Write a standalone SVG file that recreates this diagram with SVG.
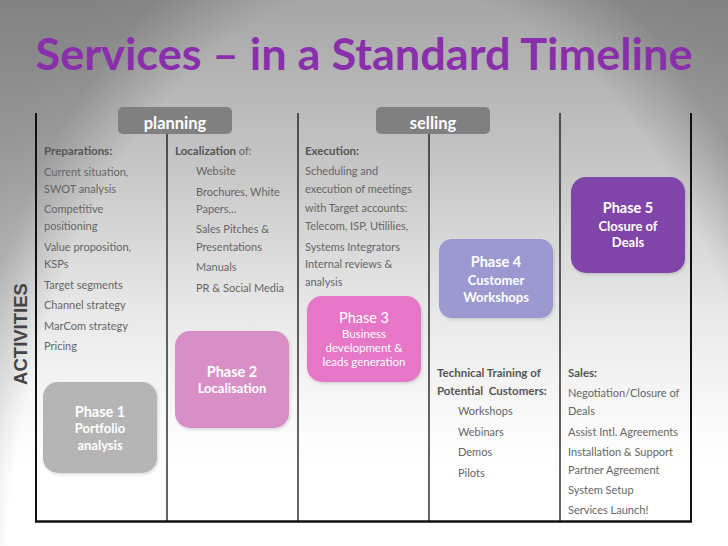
<svg xmlns="http://www.w3.org/2000/svg" width="728" height="546" viewBox="0 0 728 546">
<defs>
<linearGradient id="bg" x1="0" y1="0" x2="0" y2="546" gradientUnits="userSpaceOnUse">
<stop offset="0" stop-color="#a6a6a6"/>
<stop offset="0.27" stop-color="#c2c2c2"/>
<stop offset="0.55" stop-color="#e6e6e6"/>
<stop offset="0.77" stop-color="#fafafa"/>
<stop offset="0.86" stop-color="#ffffff"/>
<stop offset="1" stop-color="#ffffff"/>
</linearGradient>
<radialGradient id="edge" gradientUnits="userSpaceOnUse" cx="390" cy="600" r="480" gradientTransform="translate(390 600) scale(1 1.6) translate(-390 -600)">
<stop offset="0" stop-color="#000" stop-opacity="0"/>
<stop offset="0.8" stop-color="#000" stop-opacity="0"/>
<stop offset="0.92" stop-color="#000" stop-opacity="0.2"/>
<stop offset="1" stop-color="#000" stop-opacity="0.22"/>
</radialGradient>
<filter id="sh" x="-10%" y="-10%" width="125%" height="125%">
<feDropShadow dx="1" dy="1.5" stdDeviation="1.5" flood-color="#000" flood-opacity="0.15"/>
</filter>
</defs>
<style>
text{font-family:Lato,"Open Sans","Liberation Sans",sans-serif}
.b{font-size:11px;fill:#666}
.h{font-size:11.5px;fill:#555;font-weight:bold}
.lbl{font-size:16.5px;fill:#fff;font-weight:bold;text-anchor:middle}
.pt{fill:#fff;font-weight:bold;text-anchor:middle}
.p3{fill:#fff;text-anchor:middle;font-size:11.5px}
.ln{stroke:#111;stroke-width:1.3;fill:none}
.lo{stroke:#111;stroke-width:2;fill:none}
</style>
<rect width="728" height="546" fill="url(#bg)"/>
<rect width="728" height="546" fill="url(#edge)"/>
<text x="364" y="70" text-anchor="middle" font-size="43" font-weight="bold" fill="#8a2fac" textLength="657" lengthAdjust="spacingAndGlyphs">Services – in a Standard Timeline</text>
<text transform="translate(27 334) rotate(-90)" text-anchor="middle" font-size="18.5" font-weight="bold" fill="#444" style="font-family:'Liberation Sans',Arial,sans-serif">ACTIVITIES</text>

<g id="connectors">
<line class="lo" x1="36" y1="113" x2="36" y2="522"/>
<line class="ln" x1="167" y1="134" x2="167" y2="522"/>
<line class="ln" x1="298" y1="113" x2="298" y2="522"/>
<line class="ln" x1="429" y1="134" x2="429" y2="522"/>
<line class="ln" x1="560" y1="113" x2="560" y2="522"/>
<line class="lo" x1="691" y1="113" x2="691" y2="522"/>
<line x1="35" y1="521.5" x2="692" y2="521.5" stroke="#111" stroke-width="2.5"/>
</g>

<g id="planning">
<rect x="118" y="107" width="114" height="27" rx="5" fill="#808080"/>
<text class="lbl" x="175" y="129">planning</text>
</g>
<g id="selling">
<rect x="376" y="107" width="114" height="27" rx="5" fill="#808080"/>
<text class="lbl" x="433" y="129">selling</text>
</g>

<g id="col1">
<text class="h" x="44" y="155">Preparations:</text>
<text class="b" x="44" y="176">Current situation,</text>
<text class="b" x="44" y="193">SWOT analysis</text>
<text class="b" x="44" y="213">Competitive</text>
<text class="b" x="44" y="230">positioning</text>
<text class="b" x="44" y="251">Value proposition,</text>
<text class="b" x="44" y="268">KSPs</text>
<text class="b" x="44" y="289">Target segments</text>
<text class="b" x="44" y="309">Channel strategy</text>
<text class="b" x="44" y="330">MarCom strategy</text>
<text class="b" x="44" y="350">Pricing</text>
</g>
<g id="col2">
<text class="b" x="175" y="155"><tspan font-weight="bold" fill="#555" font-size="11.5">Localization</tspan> of:</text>
<text class="b" x="196" y="175">Website</text>
<text class="b" x="196" y="196">Brochures, White</text>
<text class="b" x="196" y="213">Papers,..</text>
<text class="b" x="196" y="233">Sales Pitches &amp;</text>
<text class="b" x="196" y="251">Presentations</text>
<text class="b" x="196" y="271">Manuals</text>
<text class="b" x="196" y="292">PR &amp; Social Media</text>
</g>
<g id="col3">
<text class="h" x="305" y="155">Execution:</text>
<text class="b" x="305" y="175">Scheduling and</text>
<text class="b" x="305" y="193">execution of meetings</text>
<text class="b" x="305" y="212">with Target accounts:</text>
<text class="b" x="305" y="230">Telecom, ISP, Utililies,</text>
<text class="b" x="305" y="251">Systems Integrators</text>
<text class="b" x="305" y="268">Internal reviews &amp;</text>
<text class="b" x="305" y="286">analysis</text>
</g>
<g id="col4">
<text class="h" x="437" y="377">Technical Training of</text>
<text class="h" x="437" y="395" xml:space="preserve">Potential  Customers:</text>
<text class="b" x="458" y="415">Workshops</text>
<text class="b" x="458" y="436">Webinars</text>
<text class="b" x="458" y="456">Demos</text>
<text class="b" x="458" y="477">Pilots</text>
</g>
<g id="col5">
<text class="h" x="568" y="377">Sales:</text>
<text class="b" x="568" y="397">Negotiation/Closure of</text>
<text class="b" x="568" y="415">Deals</text>
<text class="b" x="568" y="436">Assist Intl. Agreements</text>
<text class="b" x="568" y="456">Installation &amp; Support</text>
<text class="b" x="568" y="474">Partner Agreement</text>
<text class="b" x="568" y="494">System Setup</text>
<text class="b" x="568" y="514">Services Launch!</text>
</g>

<g id="phase1">
<rect x="43" y="382" width="114" height="91" rx="15" fill="#b5b5b5" filter="url(#sh)"/>
<text class="pt" x="100" y="417" font-size="14.5">Phase 1</text>
<text class="pt" x="100" y="433" font-size="13">Portfolio</text>
<text class="pt" x="100" y="450" font-size="13">analysis</text>
</g>
<g id="phase2">
<rect x="175" y="331" width="114" height="97" rx="15" fill="#d88fc7" filter="url(#sh)"/>
<text class="pt" x="232" y="377" font-size="14.5">Phase 2</text>
<text class="pt" x="232" y="393" font-size="13">Localisation</text>
</g>
<g id="phase3">
<rect x="307" y="296" width="114" height="86" rx="15" fill="#e677c6" filter="url(#sh)"/>
<text x="364" y="323" font-size="14.5" fill="#fff" text-anchor="middle">Phase 3</text>
<text class="p3" x="364" y="338">Business</text>
<text class="p3" x="364" y="352">development &amp;</text>
<text class="p3" x="364" y="366">leads generation</text>
</g>
<g id="phase4">
<rect x="439" y="239" width="114" height="79" rx="13" fill="#9c99d0" filter="url(#sh)"/>
<text class="pt" x="496" y="267" font-size="14.5">Phase 4</text>
<text class="pt" x="496" y="285" font-size="13">Customer</text>
<text class="pt" x="496" y="302" font-size="13">Workshops</text>
</g>
<g id="phase5">
<rect x="571" y="177" width="114" height="96" rx="15" fill="#7f45a8" filter="url(#sh)"/>
<text class="pt" x="628" y="213" font-size="14.5">Phase 5</text>
<text class="pt" x="628" y="231" font-size="13">Closure of</text>
<text class="pt" x="628" y="247" font-size="13">Deals</text>
</g>
</svg>
